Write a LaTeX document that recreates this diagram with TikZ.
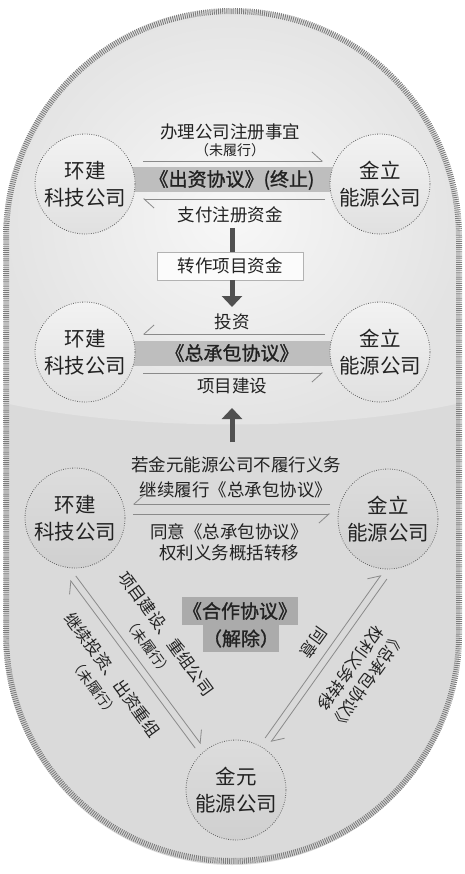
\documentclass[tikz,border=0pt]{standalone}
\usepackage{fontspec}
\setmainfont{Noto Sans CJK SC}
\newfontfamily\titlefont[FakeBold=1.2]{Noto Sans CJK SC}
\usetikzlibrary{arrows.meta,calc}
\definecolor{tickc}{HTML}{7C7C7C}
\definecolor{linegray}{HTML}{8A8A8A}
\definecolor{bandgray}{HTML}{BEBEBE}
\definecolor{boxgray}{HTML}{ABABAB}
\definecolor{ink}{HTML}{222222}
\definecolor{fatc}{HTML}{505050}
\begin{document}
\begin{tikzpicture}[x=1pt,y=-1pt,
  party/.style={circle, minimum size=100pt, inner sep=0pt, draw=gray!75!black,
    line width=0.8pt, dash pattern=on 0.8pt off 1.5pt, align=center, text=ink,
    font=\fontsize{20.5}{27}\selectfont},
  upparty/.style={party, top color=gray!10, bottom color=gray!24},
  lowparty/.style={party, top color=gray!27, bottom color=gray!37},
  lbl/.style={font=\fontsize{17.5}{25}\selectfont, align=center, inner sep=0pt, text=ink},
  small/.style={font=\fontsize{14}{16}\selectfont, inner sep=0pt, text=ink},
  rlbl/.style={font=\fontsize{16.5}{21.5}\selectfont, align=center, inner sep=0pt, text=ink},
  band/.style={fill=bandgray, minimum width=200pt, minimum height=25pt, inner sep=0pt,
    text=ink, font=\titlefont\fontsize{19}{22}\selectfont},
  tbox/.style={fill=boxgray, inner sep=0pt, text=ink, font=\titlefont\fontsize{19}{22}\selectfont},
  harpL/.style={draw=linegray, line width=0.8pt, -{Straight Barb[left, length=10pt, width=18pt]}},
  harpR/.style={draw=linegray, line width=0.8pt, -{Straight Barb[right, length=10pt, width=18pt]}},
  fat/.style={draw=fatc, line width=5pt},
  fatarrow/.style={fat, -{Triangle[width=20pt, length=11pt]}}
]
\useasboundingbox (0,0) rectangle (465,874);
% background capsule
\begin{scope}
  \clip[rounded corners=228pt] (4,9) rectangle (460,865);
  \fill[gray!29] (0,0) rectangle (465,874);
  \shade[inner color=white!97!black, outer color=gray!22]
    (0,0) -- (465,0) -- (465,402) .. controls (335,432) and (130,432) .. (0,402) -- cycle;
\end{scope}
\draw[tickc, line width=6pt, dash pattern=on 0.9pt off 1.2pt, rounded corners=226.4pt]
  (6,11) rectangle (459,861);

% ---------- row 1 ----------
\node[band] (b1) at (232,180) {《出资协议》(终止)};
\node[upparty] (hj1) at (85,184) {环建\\科技公司};
\node[upparty] (jl1) at (380,184) {金立\\能源公司};
\node[lbl] (t1) at (230,132) {办理公司注册事宜};
\node[small] (t1n) at (230,150) {（未履行）};
\coordinate (r1a) at (143,161); \coordinate (r1b) at (323,161);
\draw[harpL] (r1a) -- (r1b);
\coordinate (r1c) at (325,199); \coordinate (r1d) at (143,199);
\draw[harpL] (r1c) -- (r1d);
\node[lbl] (t2) at (230,215) {支付注册资金};
\node[lbl, draw=gray!60, line width=0.7pt, fill=white!97!gray, minimum width=146pt, minimum height=28pt]
  (box) at (230,266) {转作项目资金};
\coordinate (f1) at (232,228);
\coordinate (f1b) at (232,252);
\draw[fat] (f1) -- (f1b);
\coordinate (f2) at (232,280);
\coordinate (f2b) at (232,307);
\draw[fatarrow] (f2) -- (f2b);

% ---------- row 2 ----------
\node[band] (b2) at (232,353) {《总承包协议》};
\node[upparty] (hj2) at (85,352) {环建\\科技公司};
\node[upparty] (jl2) at (380,352) {金立\\能源公司};
\node[lbl] (t3) at (232,322) {投资};
\coordinate (r2a) at (325,334); \coordinate (r2b) at (143,334);
\draw[harpR] (r2a) -- (r2b);
\coordinate (r2c) at (143,373); \coordinate (r2d) at (323,373);
\draw[harpR] (r2c) -- (r2d);
\node[lbl] (t4) at (232,386) {项目建设};
\coordinate (u1) at (232,442); \coordinate (u2) at (232,408);
\draw[fatarrow] (u1) -- (u2);

% ---------- row 3 ----------
\node[lowparty] (hj3) at (75,518) {环建\\科技公司};
\node[lowparty] (jl3) at (388,519) {金立\\能源公司};
\node[lbl] (t5) at (236,477.5) {若金元能源公司不履行义务\\继续履行《总承包协议》};
\coordinate (r3a) at (330,504); \coordinate (r3b) at (133,504);
\draw[harpR] (r3a) -- (r3b);
\coordinate (r3c) at (133,514); \coordinate (r3d) at (330,514);
\draw[harpR] (r3c) -- (r3d);
\node[lbl, font=\fontsize{17.5}{21}\selectfont] (t6) at (229,542.5) {同意《总承包协议》\\权利义务概括转移};

% ---------- bottom ----------
\node[lowparty] (jy) at (236,790) {金元\\能源公司};
\node[tbox, minimum width=116pt, minimum height=28pt] (hz) at (240,611) {《合作协议》};
\node[tbox, minimum width=73pt, minimum height=27pt] (jc) at (241,638.5) {（解除）};

% left diagonal pair
\coordinate (la1) at (195.2,748.1); \coordinate (la2) at (70.2,580.1);
\draw[harpL] (la1) -- (la2);
\coordinate (lb1) at (75.8,575.9); \coordinate (lb2) at (200.8,743.9);
\draw[harpL] (lb1) -- (lb2);
% right diagonal pair
\coordinate (ra1) at (265.1,738); \coordinate (ra2) at (381.1,575);
\draw[harpL] (ra1) -- (ra2);
\coordinate (rb1) at (386.9,579); \coordinate (rb2) at (270.9,742);
\draw[harpL] (rb1) -- (rb2);

\node[rlbl, rotate=-54] (d1) at (158,640) {项目建设、重组公司\\{\fontsize{14}{16}\selectfont（未履行）}};
\node[rlbl, rotate=-54] (d2) at (104,681) {继续投资、出资重组\\{\fontsize{14}{16}\selectfont（未履行）}};
\node[rlbl, rotate=234] (d3) at (314,643) {同意};
\node[rlbl, rotate=234] (d4) at (359,675) {《总承包协议》\\权利义务转移};
\end{tikzpicture}
\end{document}
